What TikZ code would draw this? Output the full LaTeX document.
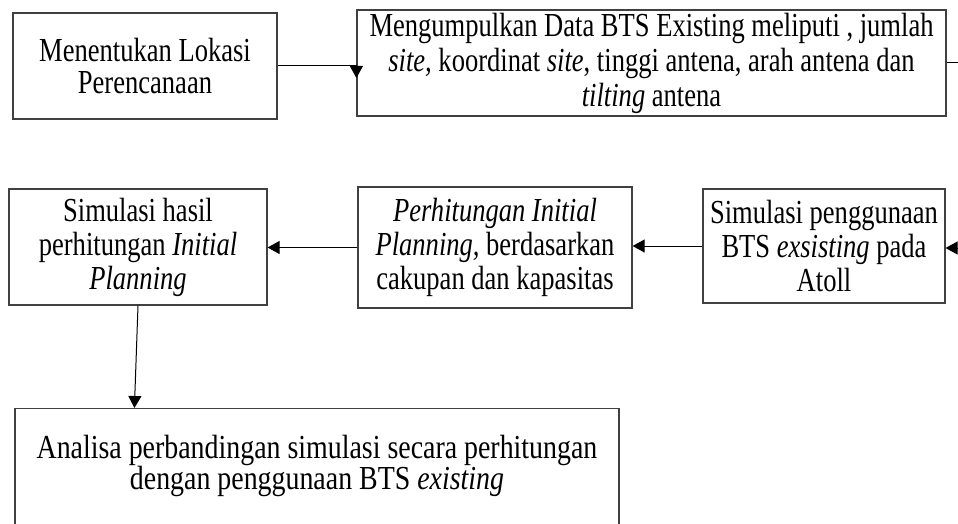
\documentclass[tikz,border=0pt]{standalone}
\usepackage{fontspec}
\setmainfont{Liberation Serif}[FakeStretch=0.79]
\newfontfamily\widefont{Liberation Serif}[FakeStretch=0.83]
\usetikzlibrary{arrows.meta}

\begin{document}
\begin{tikzpicture}[x=0.5pt,y=-0.5pt,>={Triangle[width=6.5pt,length=6pt]},
  every node/.style={font={\fontsize{16.8}{17}\selectfont}},
  box/.style={draw=black!75,line width=0.6pt,fill=white,align=center,inner sep=0pt},
  flow/.style={->,line width=0.5pt}]

% picture frame (reference is cut at right and bottom)
\useasboundingbox (0,0) rectangle (958,524);
\clip (0,0) rectangle (958,524);

% top row
\node[box,minimum width=132pt,minimum height=53pt,font={\fontsize{16.8}{16}\selectfont}] (lokasi) at (145,66)
 {Menentukan Lokasi\\Perencanaan};
\node[box,minimum width=294.5pt,minimum height=53pt,font={\fontsize{16.8}{17.5}\selectfont}] (data) at (651.5,63)
 {Mengumpulkan Data BTS Existing meliputi , jumlah\\\textit{site,} koordinat \textit{site}, tinggi antena, arah antena dan\\\textit{tilting} antena};

% middle row
\node[box,minimum width=121pt,minimum height=57pt] (atoll) at (824,246)
 {Simulasi penggunaan\\BTS \textit{exsisting} pada\\Atoll};
\node[box,minimum width=137pt,minimum height=60.5pt] (hitung) at (495,247.5)
 {\textit{Perhitungan Initial}\\\textit{Planning,} berdasarkan\\cakupan dan kapasitas};
\node[box,minimum width=129pt,minimum height=58pt] (simulasi) at (138,247)
 {Simulasi hasil\\perhitungan \textit{Initial}\\\textit{Planning}};

% bottom box
\node[box,minimum width=302pt,anchor=north,inner ysep=13.5pt,text depth=80pt,
      font={\widefont\fontsize{16.8}{15.5}\selectfont}] (analisa) at (317,408)
 {Analisa perbandingan simulasi secara perhitungan\\dengan penggunaan BTS \textit{existing}};

% loose ends at the right border
\coordinate (keluar) at (962,63);
\coordinate (masuk) at (962,248);

% connectors
\draw[flow] (lokasi.east) -- (lokasi.east -| data.west) -- ++(0,12);
\draw[line width=0.5pt] (data.east) -- (keluar);
\draw[flow] (masuk) -- (masuk -| atoll.east);
\draw[flow] (atoll.west) -- (atoll.west -| hitung.east);
\draw[flow] (hitung.west) -- (hitung.west -| simulasi.east);
\draw[flow] (simulasi.south) -- ([xshift=60pt]analisa.north west);

\end{tikzpicture}
\end{document}
